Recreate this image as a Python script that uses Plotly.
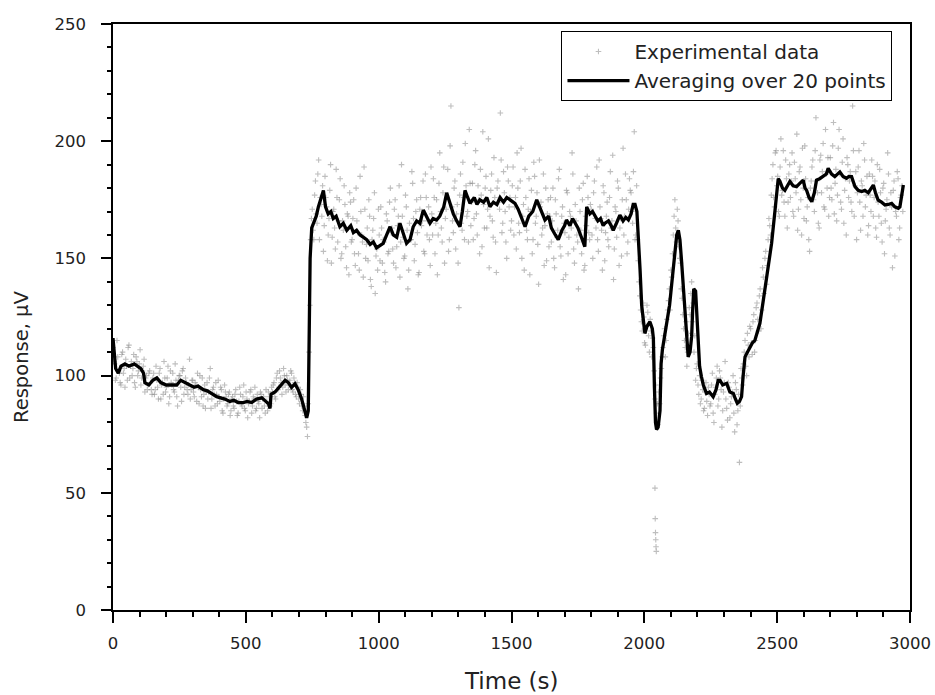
import plotly.graph_objects as go

# ---- Averaged line ----
line_t = [0, 5, 10, 20, 30, 45, 60, 80, 95, 105, 115, 120, 135, 150, 165, 180, 200, 221, 240, 255,
          271, 290, 305, 320, 340, 355, 371, 390, 405, 421, 440, 455, 471, 490, 505, 522, 540, 560, 575, 585,
          591, 595, 610, 625, 635, 648, 660, 672, 685, 697, 710, 720, 729, 735, 738, 742, 748, 754, 765, 773,
          785, 792, 800, 810, 820, 829, 840, 854, 867, 880, 895, 905, 917, 930, 943, 955, 968, 980, 992, 1005,
          1017, 1030, 1043, 1055, 1068, 1080, 1093, 1105, 1118, 1130, 1143, 1155, 1168, 1180, 1193, 1205, 1218, 1230, 1245, 1256,
          1268, 1281, 1294, 1306, 1315, 1325, 1335, 1344, 1360, 1370, 1381, 1395, 1407, 1419, 1432, 1445, 1457, 1470, 1482, 1494,
          1505, 1513, 1525, 1540, 1551, 1565, 1580, 1595, 1605, 1615, 1626, 1640, 1650, 1665, 1676, 1690, 1700, 1707, 1720, 1730,
          1739, 1750, 1760, 1770, 1776, 1783, 1795, 1805, 1814, 1825, 1835, 1845, 1852, 1865, 1875, 1883, 1895, 1908, 1920, 1930,
          1940, 1950, 1958, 1965, 1972, 1977, 1984, 1990, 1996, 2002, 2010, 2021, 2030, 2034, 2038, 2042, 2046, 2052, 2059, 2063,
          2068, 2075, 2084, 2095, 2103, 2110, 2115, 2122, 2128, 2134, 2140, 2147, 2153, 2160, 2165, 2172, 2178, 2182, 2186, 2193,
          2198, 2203, 2208, 2215, 2222, 2234, 2245, 2259, 2270, 2278, 2285, 2295, 2310, 2322, 2335, 2343, 2350, 2358, 2366, 2372,
          2379, 2388, 2397, 2407, 2416, 2425, 2435, 2448, 2460, 2470, 2479, 2492, 2498, 2504, 2510, 2520, 2529, 2540, 2548, 2560,
          2573, 2585, 2598, 2605, 2611, 2620, 2630, 2640, 2648, 2660, 2673, 2685, 2692, 2705, 2717, 2728, 2736, 2748, 2761, 2770,
          2780, 2793, 2805, 2818, 2830, 2843, 2855, 2862, 2870, 2880, 2893, 2906, 2918, 2931, 2943, 2956, 2962, 2966, 2970, 2975]
line_v = [116, 108, 103, 101, 104, 105, 104, 105, 104, 103, 101, 97, 96, 98, 99, 97, 96, 96, 96, 98,
          97, 96, 95, 95.5, 94, 93.5, 92.5, 91, 90.5, 90, 89, 89.5, 88.5, 88.5, 89, 88.5, 90, 90.5, 89, 88,
          86, 92, 93, 95, 96.5, 98, 97, 95, 96.5, 94, 90, 86, 82, 85, 120, 150, 163, 165, 168, 172,
          176, 179, 172, 169, 170, 167, 168, 163.5, 165, 162, 164, 161, 162, 160, 159, 158, 156, 157, 154.5, 155.5,
          156.4, 160, 163.5, 160, 159, 165, 160, 156.4, 158, 163.5, 166, 165, 170.6, 168, 165, 167, 166.4, 168, 172, 178,
          174, 169, 166, 163.5, 170, 179, 176, 173.5, 176, 173, 175, 174, 176, 172, 174, 173, 176, 174, 176, 175,
          174, 173.5, 171, 167, 163.5, 168, 170, 175, 172, 169, 166.4, 168, 163, 160, 158, 162, 164, 166.4, 164, 167,
          165, 163, 160, 157, 155, 172, 169, 170, 168, 166, 167, 164, 165, 166, 164, 162, 165, 168.5, 166, 167.5,
          166.4, 169, 173, 173, 170, 161, 145, 130, 122, 118, 121, 123, 120, 116, 95, 80, 77, 78, 85, 105,
          111, 116, 121, 130, 139, 148, 155, 160, 162, 158, 149, 138, 128, 116, 108, 110, 116.6, 128, 137, 136,
          125, 111, 104, 99.5, 96, 92.4, 93, 91, 94, 98, 98, 96, 96.7, 93, 92.4, 90, 88.2, 89, 91, 100,
          108, 110, 112.3, 114, 115, 118, 122.3, 132.3, 142.2, 150, 156.4, 170.6, 178, 184, 183, 180, 179, 181, 182.8, 181,
          180.6, 182, 183.4, 180, 179, 176, 174.2, 178, 183.4, 184, 184.9, 186, 188.4, 186, 184.9, 186, 186.9, 185, 184.2, 185,
          184.9, 180.6, 179, 178.5, 179, 178, 180, 181.3, 178, 174.9, 174, 172.8, 173, 173.5, 172, 171.4, 172, 174.9, 178, 181.3]

exp_t = list(range(0, 2976, 6))
exp_v = [
    112, 105, 99, 108, 101, 96, 110, 103, 107, 98, 113, 104, 100, 109, 95, 106, 102, 111, 99, 104, 93, 100, 96, 102, 94,
    99, 92, 104, 95, 101, 90, 97, 106, 93, 99, 88, 102, 96, 94, 105, 91, 98, 100, 89, 103, 95, 97, 92, 107, 94,
    98, 91, 96, 101, 88, 94, 99, 92, 86, 97, 93, 103, 90, 95, 87, 92, 98, 89, 94, 84, 96, 91, 88, 93, 85,
    91, 86, 94, 83, 89, 92, 87, 96, 85, 90, 88, 93, 84, 91, 95, 86, 89, 82, 92, 90, 87, 94, 85, 91, 88,
    93, 97, 90, 101, 95, 99, 92, 103, 96, 100, 94, 98, 101, 93, 97, 91, 95, 88, 92, 85, 87, 80, 74, 110, 158,
    171, 158, 183, 165, 192, 176, 168, 153, 185, 172, 160, 179, 148, 170, 163, 188, 157, 175, 150, 166, 181, 155, 169, 143, 174,
    158, 175, 147, 166, 152, 185, 160, 142, 171, 156, 149, 168, 138, 162, 178, 151, 145, 160, 172, 148, 157, 140, 166, 153, 180,
    163, 148, 175, 155, 168, 142, 190, 159, 151, 172, 137, 165, 158, 182, 149, 170, 161, 144, 176, 166, 153, 186, 160, 172, 147,
    169, 184, 152, 175, 160, 195, 163, 178, 148, 171, 188, 158, 215, 166, 180, 154, 173, 129, 186, 162, 176, 199, 168, 157, 182,
    174, 158, 190, 169, 181, 152, 177, 204, 163, 185, 171, 146, 179, 166, 193, 157, 180, 174, 212, 161, 187, 170, 150, 183, 176,
    166, 189, 172, 154, 180, 161, 197, 168, 145, 176, 158, 184, 170, 152, 191, 165, 178, 139, 172, 160, 186, 164, 149, 175, 168,
    157, 180, 146, 169, 162, 188, 151, 172, 165, 143, 178, 159, 168, 195, 154, 173, 160, 137, 170, 152, 182, 147, 164, 176, 158,
    171, 150, 183, 163, 158, 192, 167, 145, 178, 161, 174, 155, 187, 166, 141, 172, 159, 180, 163, 151, 197, 168, 175, 157, 184,
    178, 165, 204, 160, 158, 140, 128, 119, 125, 113, 130, 117, 124, 108, 112, 90, 84, 79, 88, 103, 112, 120, 115, 128, 137,
    145, 152, 168, 163, 171, 155, 148, 133, 120, 112, 104, 118, 126, 140, 131, 117, 103, 96, 100, 90, 94, 86, 97, 83, 92,
    88, 101, 80, 95, 104, 90, 99, 78, 93, 106, 86, 97, 82, 91, 100, 76, 94, 85, 63, 103, 96, 110, 104, 118, 108,
    120, 109, 126, 115, 131, 119, 137, 128, 142, 150, 139, 158, 164, 177, 190, 172, 196, 185, 168, 201, 179, 174, 192, 163, 186,
    176, 195, 168, 184, 203, 171, 189, 160, 180, 198, 166, 176, 153, 183, 192, 170, 210, 178, 163, 194, 187, 172, 205, 180, 168,
    193, 175, 208, 182, 166, 197, 186, 171, 201, 179, 160, 190, 183, 174, 215, 168, 187, 178, 196, 162, 181, 199, 172, 185, 164,
    177, 192, 168, 183, 159, 174, 188, 165, 180, 152, 171, 195, 163, 178, 146, 183, 170, 187, 158, 176, 181,
]
exp2_t = list(range(3, 2976, 6))
exp2_v = [
    106, 98, 115, 102, 97, 109, 101, 95, 104, 112, 99, 106, 103, 97, 108, 100, 105, 96, 102, 107, 99, 94, 101, 97, 92,
    101, 94, 98, 90, 103, 96, 92, 99, 95, 104, 91, 97, 101, 93, 98, 87, 100, 95, 102, 92, 99, 94, 96, 90, 98,
    93, 97, 89, 95, 100, 91, 87, 96, 93, 90, 99, 86, 94, 92, 97, 88, 91, 95, 85, 90, 93, 87, 92, 83, 90,
    87, 92, 89, 84, 95, 88, 91, 86, 93, 82, 89, 94, 87, 90, 85, 92, 88, 93, 86, 91, 84, 89, 93, 87, 95,
    96, 91, 99, 94, 102, 97, 95, 100, 93, 98, 96, 102, 94, 99, 92, 97, 90, 94, 87, 91, 83, 78, 88, 130, 167,
    162, 177, 169, 186, 158, 173, 181, 164, 176, 149, 167, 190, 159, 171, 154, 176, 166, 184, 152, 162, 173, 146, 168, 178, 157,
    167, 152, 180, 161, 145, 170, 157, 189, 150, 163, 175, 141, 158, 167, 135, 154, 171, 149, 163, 158, 144, 169, 152, 174, 161,
    154, 171, 146, 164, 181, 157, 168, 150, 177, 162, 145, 158, 187, 167, 156, 175, 143, 171, 164, 183, 152, 176, 166, 158, 189,
    160, 176, 165, 143, 182, 170, 157, 189, 167, 176, 153, 198, 172, 161, 183, 169, 148, 177, 165, 191, 158, 181, 170, 205, 164,
    182, 167, 196, 160, 175, 188, 155, 173, 180, 163, 201, 168, 186, 159, 176, 144, 183, 171, 192, 165, 178, 157, 189, 172, 162,
    181, 160, 176, 195, 165, 183, 150, 173, 188, 162, 171, 143, 179, 158, 185, 168, 156, 192, 174, 163, 147, 180, 169, 155, 176,
    166, 150, 175, 159, 184, 155, 168, 141, 161, 179, 152, 170, 163, 186, 148, 166, 157, 180, 162, 175, 145, 168, 185, 161, 173,
    160, 178, 167, 189, 153, 172, 162, 181, 149, 168, 158, 176, 163, 194, 154, 170, 183, 147, 167, 175, 160, 186, 152, 171, 179,
    170, 187, 158, 181, 149, 134, 123, 131, 114, 121, 127, 110, 119, 116, 102, 96, 88, 93, 99, 108, 117, 108, 124, 132, 128,
    142, 160, 175, 157, 166, 150, 137, 126, 115, 123, 110, 129, 135, 123, 110, 98, 105, 92, 88, 98, 85, 93, 89, 95, 87,
    96, 84, 92, 99, 87, 102, 94, 85, 97, 90, 81, 95, 88, 93, 84, 97, 79, 92, 87, 99, 105, 115, 100, 113, 121,
    114, 123, 110, 129, 124, 134, 120, 146, 135, 153, 147, 167, 160, 184, 176, 195, 181, 170, 189, 177, 196, 168, 184, 174, 190,
    183, 170, 191, 178, 162, 187, 175, 197, 167, 184, 172, 158, 180, 189, 175, 196, 183, 165, 192, 178, 199, 171, 186, 193, 176,
    180, 198, 169, 188, 177, 205, 174, 191, 165, 184, 193, 176, 187, 170, 196, 181, 158, 189, 174, 183, 168, 192, 177, 160, 186,
    170, 185, 176, 163, 190, 168, 178, 157, 182, 166, 175, 186, 160, 172, 179, 151, 168, 184, 163, 177, 170,
]
# outliers around 2040 s
out_t = [2040, 2041, 2042, 2043, 2044, 2045]
out_v = [52, 39, 33, 30, 27, 25]

all_t = exp_t + exp2_t + out_t
all_v = exp_v + exp2_v + out_v

X_RANGE = [0, 3000]
Y_RANGE = [0, 250]

FONT = "DejaVu Sans"
TXT = "#222"

fig = go.Figure()
fig.add_trace(go.Scatter(
    x=all_t, y=all_v, mode="markers", name="Experimental data",
    marker=dict(symbol="cross-thin", size=4, color="rgba(125,125,125,0.5)",
                line=dict(width=1.1, color="rgba(125,125,125,0.5)")),
))
fig.add_trace(go.Scatter(
    x=line_t, y=line_v, mode="lines", name="Averaging over 20 points",
    line=dict(color="black", width=3.3),
))
# transparent helper trace so the overlay axes (minor ticks) are drawn
fig.add_trace(go.Scatter(
    x=line_t, y=line_v, xaxis="x2", yaxis="y2", mode="lines",
    line=dict(color="rgba(0,0,0,0)", width=0), showlegend=False, hoverinfo="skip",
))

axis_font = dict(family=FONT, size=16.5, color=TXT)
fig.update_layout(
    width=935, height=695,
    margin=dict(l=113, r=25, t=24, b=85, autoexpand=False),
    paper_bgcolor="white", plot_bgcolor="white",
    font=dict(family=FONT, color=TXT),
    showlegend=True,
    legend=dict(
        x=0.978, y=0.988, xanchor="right", yanchor="top",
        bordercolor="black", borderwidth=1, bgcolor="white",
        font=dict(family=FONT, size=20, color=TXT),
        itemwidth=62, tracegroupgap=0,
    ),
    xaxis=dict(
        range=X_RANGE, tick0=0, dtick=500, automargin=False,
        ticks="outside", ticklen=11, tickwidth=1.5, tickcolor="black",
        showline=True, linecolor="black", linewidth=1.5, mirror=True,
        showgrid=False, zeroline=False, tickfont=axis_font,
        ticklabelstandoff=6,
    ),
    yaxis=dict(
        range=Y_RANGE, tick0=0, dtick=50, automargin=False,
        ticks="outside", ticklen=10, tickwidth=1.5, tickcolor="black",
        showline=True, linecolor="black", linewidth=1.5, mirror=True,
        showgrid=False, zeroline=False, tickfont=axis_font,
        ticklabelstandoff=12,
    ),
    xaxis2=dict(
        overlaying="x", anchor="y2", side="bottom", range=X_RANGE, tick0=0, dtick=100,
        ticks="outside", ticklen=6, tickwidth=1.5, tickcolor="black", automargin=False,
        showticklabels=False, showline=False, showgrid=False, zeroline=False,
    ),
    yaxis2=dict(
        overlaying="y", anchor="x2", side="left", range=Y_RANGE, tick0=0, dtick=10,
        ticks="outside", ticklen=5, tickwidth=1.5, tickcolor="black", automargin=False,
        showticklabels=False, showline=False, showgrid=False, zeroline=False,
    ),
    annotations=[
        dict(text="Response, μV", textangle=-90, xref="paper", yref="paper",
             x=-0.114, y=0.432, xanchor="center", yanchor="middle", showarrow=False,
             font=dict(family=FONT, size=19.5, color=TXT)),
        dict(text="Time (s)", xref="paper", yref="paper",
             x=0.5, y=-0.121, xanchor="center", yanchor="middle", showarrow=False,
             font=dict(family=FONT, size=23, color=TXT)),
    ],
)

fig.write_html("out.html")
